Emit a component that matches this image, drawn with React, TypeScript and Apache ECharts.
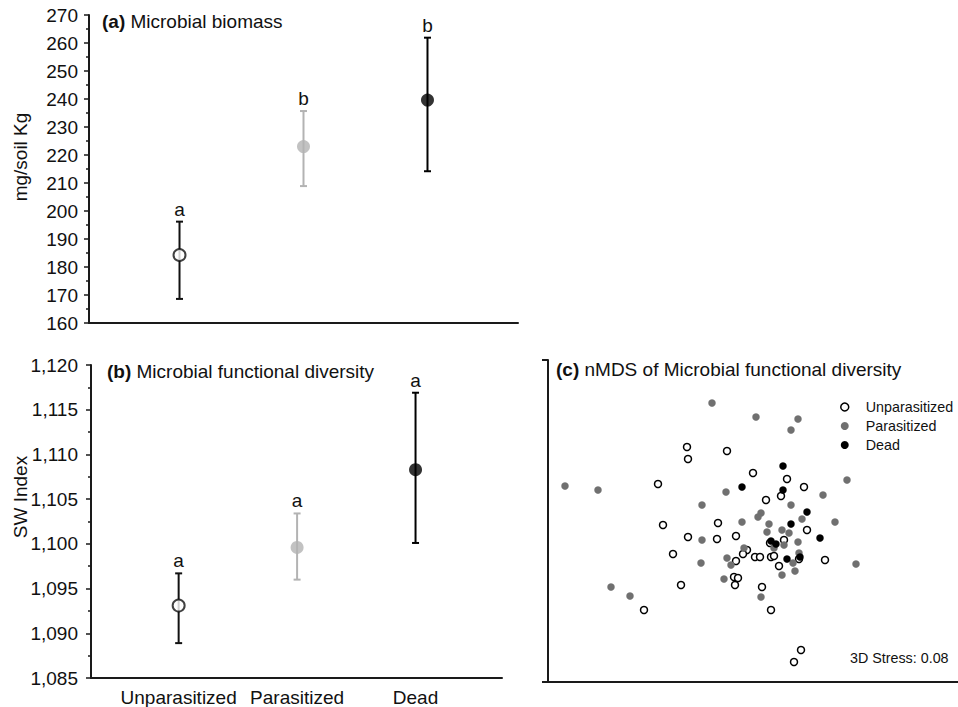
import React, { useEffect, useRef } from 'react';
import * as echarts from 'echarts';

const FONT = '"Liberation Sans", Arial, sans-serif';

// Categories
const groups = ['Unparasitized', 'Parasitized', 'Dead'];
const groupPos = [1, 2, 3];
const groupColors = ['#111111', '#b3b3b3', '#000000'];

// (a) Microbial biomass (mg/soil Kg)
const biomassMean = [184.3, 223.0, 239.6];
const biomassLow = [168.6, 208.9, 214.2];
const biomassHigh = [196.2, 235.7, 261.9];
const biomassLetters = ['a', 'b', 'b'];

// (b) Microbial functional diversity (SW index)
const swMean = [1093.1, 1099.6, 1108.3];
const swLow = [1088.9, 1096.0, 1100.1];
const swHigh = [1096.7, 1103.4, 1116.9];
const swLetters = ['a', 'a', 'a'];

// (c) nMDS scores [NMDS1, NMDS2]
const unparasitizedPts = [
  [-0.66, 0.74], [-0.26, 0.70], [-0.65, 0.62], [-0.95, 0.37], [0.00, 0.48], [0.34, 0.42],
  [0.51, 0.34], [0.28, 0.25], [0.13, 0.21], [-0.90, -0.04], [-0.35, -0.02], [-0.65, -0.16],
  [-0.36, -0.18], [-0.17, -0.15], [0.54, -0.09], [-0.06, -0.29], [-0.10, -0.33], [-0.80, -0.33],
  [-0.17, -0.40], [0.02, -0.36], [0.07, -0.36], [0.18, -0.36], [0.21, -0.35], [0.17, -0.22],
  [0.31, -0.19], [0.26, -0.45], [0.46, -0.38], [0.72, -0.39], [-0.19, -0.56], [-0.15, -0.57],
  [-0.18, -0.64], [0.09, -0.66], [-0.72, -0.64], [-1.09, -0.89], [0.18, -0.89], [0.48, -1.29],
  [0.41, -1.41],
];
const parasitizedPts = [
  [-0.41, 1.18], [0.03, 1.04], [0.45, 1.02], [0.38, 0.91], [-1.88, 0.35], [-1.55, 0.31],
  [-0.27, 0.29], [0.94, 0.41], [0.70, 0.26], [-0.51, 0.16], [0.38, 0.16], [0.08, 0.08],
  [0.05, 0.04], [0.49, 0.02], [-0.11, -0.01], [0.82, -0.01], [0.16, -0.03], [0.29, -0.09],
  [0.14, -0.11], [0.36, -0.12], [-0.51, -0.19], [0.45, -0.21], [0.31, -0.24], [-0.09, -0.27],
  [-0.26, -0.37], [-0.22, -0.44], [-0.52, -0.42], [0.46, -0.32], [0.40, -0.42], [1.03, -0.43],
  [0.29, -0.54], [0.42, -0.50], [-0.29, -0.58], [0.08, -0.76], [-1.42, -0.66], [-1.23, -0.75],
  [0.21, -0.27],
];
const deadPts = [
  [0.30, 0.55], [-0.11, 0.34], [0.30, 0.31], [0.54, 0.09], [0.38, -0.03], [0.67, -0.17],
  [0.18, -0.20], [0.23, -0.23], [0.34, -0.38], [0.47, -0.36],
];
const stressLabel = '3D Stress: 0.08';
const yNameA = 'mg/soil Kg';
const yNameB = 'SW Index';

function errorBarSeries(axisIdx: number, low: number[], high: number[], letters: string[]) {
  return {
    type: 'custom',
    xAxisIndex: axisIdx,
    yAxisIndex: axisIdx,
    data: groupPos.map((p, i) => [p, low[i], high[i]]),
    z: 2,
    renderItem: (params: any, api: any) => {
      const i = params.dataIndex;
      const x = api.value(0);
      const lo = api.coord([x, api.value(1)]);
      const hi = api.coord([x, api.value(2)]);
      const c = groupColors[i];
      const cap = 3.5;
      return {
        type: 'group',
        children: [
          { type: 'line', shape: { x1: lo[0], y1: lo[1], x2: hi[0], y2: hi[1] }, style: { stroke: c, lineWidth: 2 } },
          { type: 'line', shape: { x1: lo[0] - cap, y1: lo[1], x2: lo[0] + cap, y2: lo[1] }, style: { stroke: c, lineWidth: 2 } },
          { type: 'line', shape: { x1: hi[0] - cap, y1: hi[1], x2: hi[0] + cap, y2: hi[1] }, style: { stroke: c, lineWidth: 2 } },
          {
            type: 'text', x: hi[0], y: hi[1] - 3,
            style: { text: letters[i], fill: '#111', fontSize: 19, fontFamily: FONT, align: 'center', verticalAlign: 'bottom' },
          },
        ],
      };
    },
  };
}

function meanSeries(axisIdx: number, means: number[]) {
  return {
    type: 'scatter',
    xAxisIndex: axisIdx,
    yAxisIndex: axisIdx,
    z: 3,
    data: groupPos.map((p, i) => ({
      value: [p, means[i]],
      symbolSize: i === 0 ? 12 : 13,
      itemStyle: i === 0
        ? { color: '#ffffff', borderColor: '#111', borderWidth: 2 }
        : { color: groupColors[i], borderWidth: 0 },
    })),
  };
}

export default function App() {
  const ref = useRef<HTMLDivElement>(null);
  useEffect(() => {
    if (!ref.current) return;
    const chart = echarts.init(ref.current, null, { renderer: 'svg' });
    const axisLine = { show: true, onZero: false, lineStyle: { color: '#1a1a1a', width: 2 } };
    const labelStyle = { color: '#111', fontSize: 19, fontFamily: FONT };
    const titleStyle = {
      fontSize: 19, fontWeight: 'normal', color: '#111', fontFamily: FONT,
      rich: { b: { fontWeight: 'bold', fontSize: 19, color: '#111', fontFamily: FONT } },
    };
    const option: any = {
      animation: false,
      backgroundColor: '#ffffff',
      textStyle: { fontFamily: FONT },
      title: [
        { left: 102, top: 12, padding: 0, text: '{b|(a)} Microbial biomass', textStyle: titleStyle },
        { left: 107, top: 362, padding: 0, text: '{b|(b)} Microbial functional diversity', textStyle: titleStyle },
        { left: 556, top: 360, padding: 0, text: '{b|(c)} nMDS of Microbial functional diversity', textStyle: titleStyle },
      ],
      grid: [
        { left: 89, top: 15, width: 429, height: 308 },
        { left: 91, top: 365, width: 411, height: 316 },
        { left: 548, top: 360, width: 410, height: 322 },
      ],
      xAxis: [
        {
          gridIndex: 0, type: 'value', min: 0.27, max: 3.73,
          axisLine, axisTick: { show: false }, axisLabel: { show: false }, splitLine: { show: false },
        },
        {
          gridIndex: 1, type: 'value', min: 0.26, max: 3.73,
          axisLine, axisTick: { show: false }, splitLine: { show: false },
          axisLabel: {
            ...labelStyle, margin: 10, customValues: groupPos,
            formatter: (v: number) => groups[Math.round(v) - 1] || '',
          },
        },
        {
          gridIndex: 2, type: 'value', min: -2.05, max: 2.05,
          axisLine, axisTick: { show: false }, axisLabel: { show: false }, splitLine: { show: false },
        },
      ],
      yAxis: [
        {
          gridIndex: 0, type: 'value', min: 160, max: 270, interval: 10,
          axisLine, splitLine: { show: false },
          axisTick: { show: true, inside: false, length: 5, lineStyle: { color: '#1a1a1a', width: 1.5 } },
          minorTick: { show: true, splitNumber: 2, length: 3, lineStyle: { color: '#1a1a1a', width: 1.5 } },
          axisLabel: { ...labelStyle, margin: 11 },
        },
        {
          gridIndex: 1, type: 'value', min: 1085, max: 1120, interval: 5,
          axisLine, splitLine: { show: false },
          axisTick: { show: true, inside: false, length: 5, lineStyle: { color: '#1a1a1a', width: 1.5 } },
          minorTick: { show: true, splitNumber: 2, length: 3, lineStyle: { color: '#1a1a1a', width: 1.5 } },
          axisLabel: { ...labelStyle, margin: 13, formatter: (v: number) => v.toLocaleString('en-US') },
        },
        {
          gridIndex: 2, type: 'value', min: -1.61, max: 1.61, interval: 3.22,
          axisLine, splitLine: { show: false },
          axisTick: { show: true, inside: false, length: 6, lineStyle: { color: '#1a1a1a', width: 2 } },
          axisLabel: { show: false },
        },
      ],
      legend: {
        orient: 'vertical', left: 840, top: 400, padding: 0,
        itemWidth: 8, itemHeight: 8, itemGap: 5,
        textStyle: { fontSize: 14.3, color: '#111', fontFamily: FONT, padding: [0, 0, 0, 12] },
        data: [
          { name: 'Unparasitized', icon: 'circle', itemStyle: { color: '#fff', borderColor: '#000', borderWidth: 1.5 } },
          { name: 'Parasitized', icon: 'circle', itemStyle: { color: '#707070', borderWidth: 0 } },
          { name: 'Dead', icon: 'circle', itemStyle: { color: '#000', borderWidth: 0 } },
        ],
      },
      graphic: [
        {
          type: 'text', left: 850, top: 651,
          style: { text: stressLabel, fill: '#111', fontSize: 14.3, fontFamily: FONT },
        },
        {
          type: 'text', x: 20, y: 157, rotation: Math.PI / 2,
          style: { text: yNameA, fill: '#111', fontSize: 19, fontFamily: FONT, align: 'center', verticalAlign: 'middle' },
        },
        {
          type: 'text', x: 20, y: 497, rotation: Math.PI / 2,
          style: { text: yNameB, fill: '#111', fontSize: 19, fontFamily: FONT, align: 'center', verticalAlign: 'middle' },
        },
      ],
      series: [
        errorBarSeries(0, biomassLow, biomassHigh, biomassLetters),
        meanSeries(0, biomassMean),
        errorBarSeries(1, swLow, swHigh, swLetters),
        meanSeries(1, swMean),
        {
          name: 'Unparasitized', type: 'scatter', xAxisIndex: 2, yAxisIndex: 2,
          symbolSize: 7, data: unparasitizedPts,
          itemStyle: { color: '#fff', borderColor: '#000', borderWidth: 1.5, opacity: 1 },
        },
        {
          name: 'Parasitized', type: 'scatter', xAxisIndex: 2, yAxisIndex: 2,
          symbolSize: 7.5, data: parasitizedPts,
          itemStyle: { color: '#707070', borderWidth: 0, opacity: 1 },
        },
        {
          name: 'Dead', type: 'scatter', xAxisIndex: 2, yAxisIndex: 2,
          symbolSize: 7.5, data: deadPts,
          itemStyle: { color: '#000', borderWidth: 0, opacity: 1 },
        },
      ],
    };
    chart.setOption(option);
    return () => chart.dispose();
  }, []);
  return (
    <div
      ref={ref}
      style={{ position: 'fixed', left: 0, top: 0, width: 958, height: 707, background: '#fff' }}
    />
  );
}
